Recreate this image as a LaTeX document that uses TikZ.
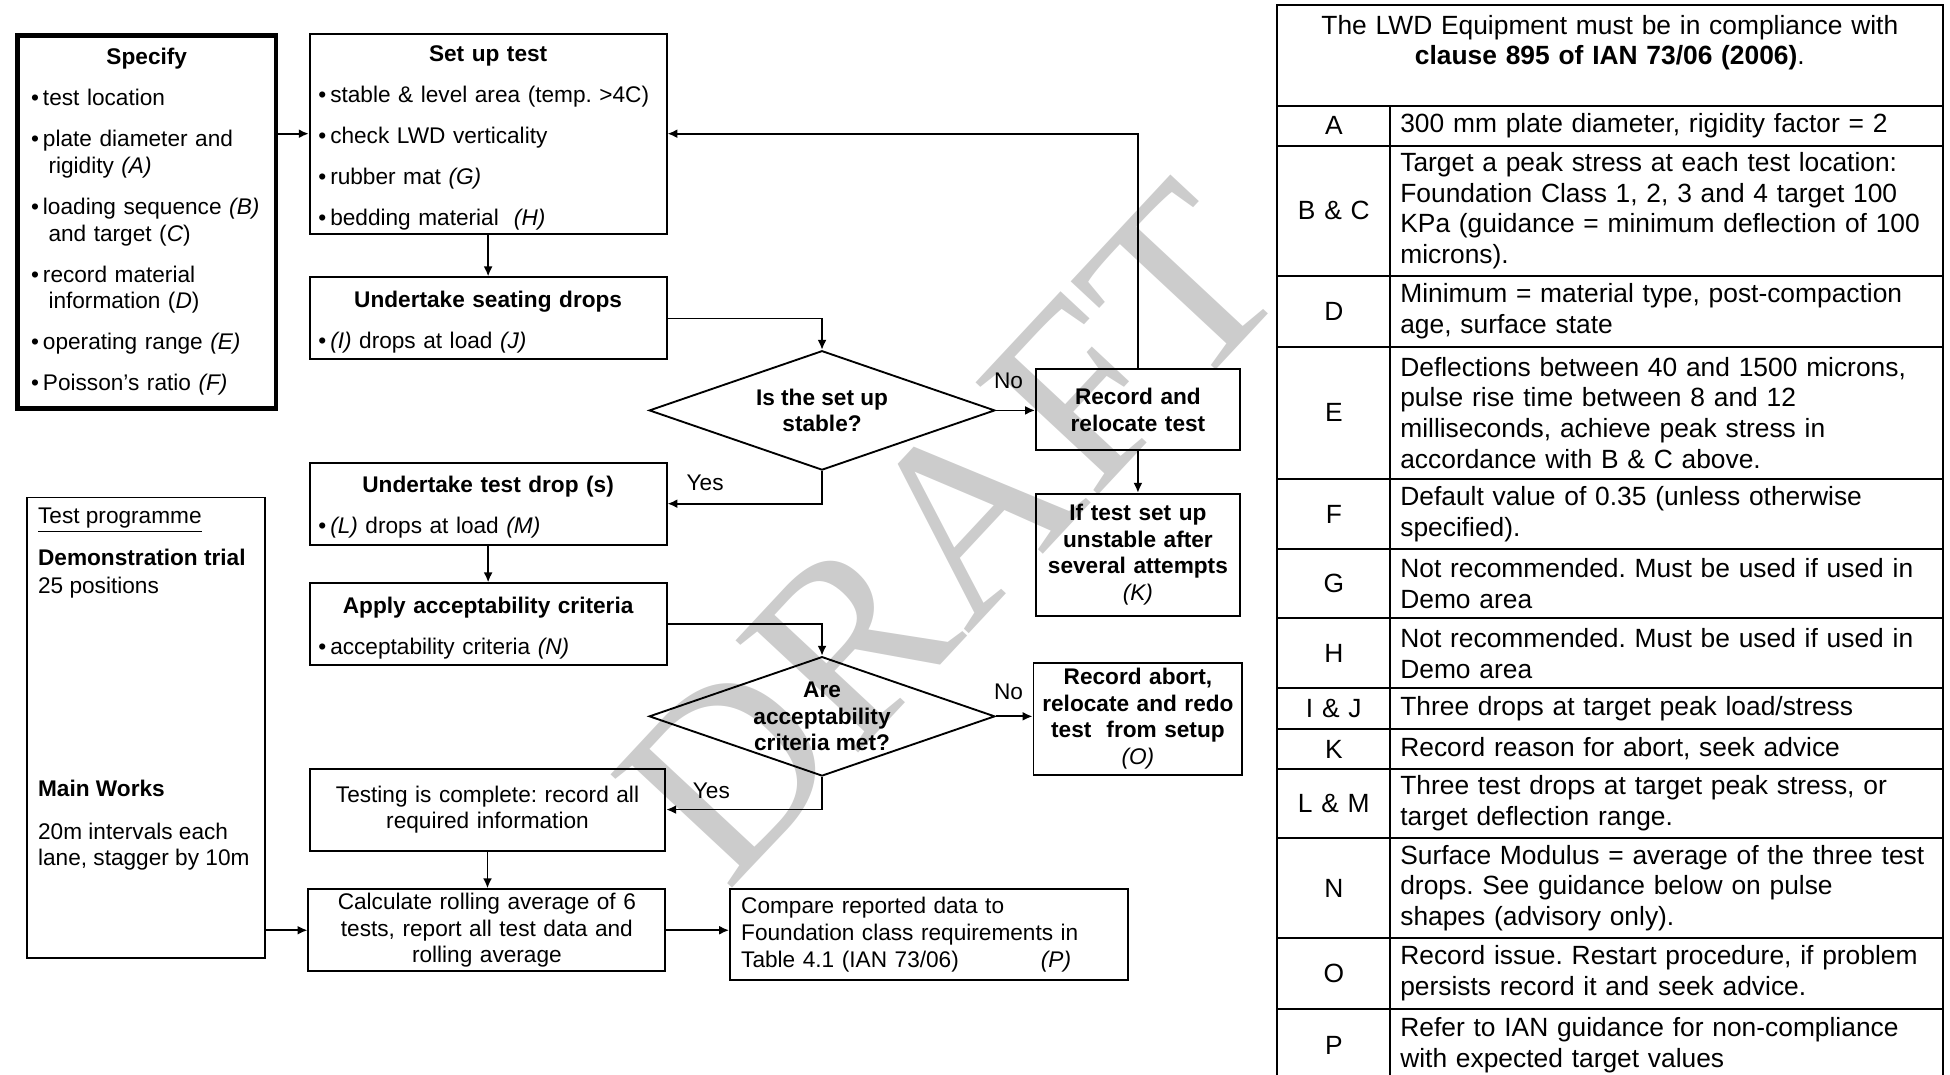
\documentclass[tikz,border=0pt]{standalone}
\usepackage{fontspec}
\setmainfont{Liberation Sans}
\newfontfamily\wmfont{Liberation Serif}
\usepackage{xcolor}
\usepackage{tikz}
\usetikzlibrary{positioning,arrows.meta,shapes.geometric,calc}

\definecolor{wmgray}{RGB}{204,204,204}
\newcommand{\fcfont}{\fontsize{9.1}{10.7}\selectfont}
\newcommand{\tbfont}{\fontsize{10.6}{12.35}\selectfont}
\newcommand{\bl}[1]{\par\hangindent=7pt\hangafter=1\mbox{\textbullet\hspace{1.6pt}#1}}
\newcommand{\blc}[1]{\newline\mbox{#1}}
\newcommand{\ttl}[1]{\centerline{\rule{0pt}{9.5pt}\bfseries #1}}
\frenchspacing

\begin{document}
\begin{tikzpicture}[x=50pt, y=50pt,
  blk/.style={draw, line width=0.75pt, font=\fcfont, align=left, inner xsep=3.5pt,
              inner ysep=0pt, text width=136.5pt, minimum height=33pt,
              execute at begin node={\setlength{\parskip}{5.8pt}}},
  spec/.style={blk, line width=1.8pt, inner xsep=5.5pt, text width=93pt, minimum height=150pt},
  cbox/.style={draw, line width=0.75pt, font=\fcfont, align=center, inner xsep=2pt,
               inner ysep=0pt, minimum height=33pt},
  dec/.style={draw, diamond, line width=0.75pt, inner sep=0pt, minimum width=139pt,
              minimum height=48pt},
  dtxt/.style={font=\fcfont\bfseries, align=center, inner sep=0pt},
  lab/.style={font=\fcfont, inner sep=1pt},
  arr/.style={-{Latex[length=4pt,width=3.6pt]}, line width=0.7pt},
  kcell/.style={draw, line width=0.8pt, font=\tbfont, align=center, text width=43.5pt,
                inner xsep=1pt, inner ysep=0pt, outer sep=0pt},
  dcell/.style={draw, line width=0.8pt, font=\tbfont, align=left, text width=214pt,
                inner xsep=4pt, inner ysep=0pt, outer sep=0pt},
  wm/.style={font=\wmfont\fontsize{102}{102}\selectfont, text=wmgray, rotate=47, inner sep=0pt},
]
\useasboundingbox (0,0) rectangle (15.68,-8.64);

% ====== watermark (behind everything) ======
\node[wm] (wmark) at (7.64,-4.28) {DRAFT};

% ====== left column: inputs ======
\node[spec] (spec) at (1.18,-1.785) {\centerline{\bfseries Specify}
  \bl{test location}
  \bl{plate diameter and}\blc{rigidity \emph{(A)}}
  \bl{loading sequence \emph{(B)}}\blc{and target (\emph{C})}
  \bl{record material}\blc{information (\emph{D})}
  \bl{operating range \emph{(E)}}
  \bl{Poisson's ratio \emph{(F)}}};

\node[draw, line width=0.75pt, minimum width=95.5pt, minimum height=185pt] (tp) at (1.175,-5.85) {};
\node[font=\fcfont, align=left, inner sep=0pt, below right=4.5pt and 4.5pt of tp.north west] (tpt)
  {\underline{Test programme}\\[6pt]
   \textbf{Demonstration trial}\\[0.5pt]
   25 positions\\[71pt]
   \textbf{Main Works}\\[6.5pt]
   20m intervals each\\
   lane, stagger by 10m};

% ====== main column ======
\node[blk, minimum height=80.5pt] (setup) at (3.925,-1.075) {\ttl{Set up test}
  \bl{stable \& level area (temp. >4C)}
  \bl{check LWD verticality}
  \bl{rubber mat \emph{(G)}}
  \bl{bedding material\ \ \emph{(H)}}};
\node[blk] (seat) at (3.925,-2.56) {\ttl{Undertake seating drops}
  \bl{\emph{(I)} drops at load \emph{(J)}}};
\node[blk] (drop) at (3.925,-4.05) {\ttl{Undertake test drop (s)}
  \bl{\emph{(L)} drops at load \emph{(M)}}};
\node[blk] (apply) at (3.925,-5.02) {\ttl{Apply acceptability criteria}
  \bl{acceptability criteria \emph{(N)}}};
\node[cbox, text width=139pt] (done) at (3.92,-6.51)
  {Testing is complete: record all\\required information};
\node[cbox, text width=139.5pt] (calc) at (3.915,-7.48)
  {Calculate rolling average of 6\\tests, report all test data and\\rolling average};
\node[cbox, align=left, text width=151pt, inner xsep=4.5pt, minimum height=36.5pt] (cmp) at (7.47,-7.515)
  {Compare reported data to\\Foundation class requirements in\\Table 4.1 (IAN 73/06)\hspace{33pt}\emph{(P)}};

% ====== decisions ======
\node[dec] (d1) at (6.61,-3.30) {};
\node[dtxt] (d1t) at (d1) {Is the set up\\stable?};
\node[dec] (d2) at (6.61,-5.76) {};
\node[dtxt] (d2t) at (d2) {Are\\acceptability\\criteria met?};

\node[cbox, font=\fcfont\bfseries, text width=78pt, minimum height=32.5pt] (rec) at (9.15,-3.295)
  {Record and\\relocate test};
\node[cbox, font=\fcfont\bfseries, text width=78pt, minimum height=49pt] (iftest) at (9.15,-4.46)
  {If test set up\\unstable after\\several attempts\\{\mdseries\itshape (K)}};
\node[cbox, font=\fcfont\bfseries, text width=80pt, minimum height=45pt] (abort) at (9.15,-5.78)
  {Record abort,\\relocate and redo\\test\ \ from setup\\{\mdseries\itshape (O)}};

\node[lab] (no1)  at (8.11,-3.06) {No};
\node[lab] (yes1) at (5.67,-3.88) {Yes};
\node[lab] (no2)  at (8.11,-5.56) {No};
\node[lab] (yes2) at (5.72,-6.36) {Yes};

% ====== connectors ======
\draw[arr] (spec.east |- setup.west) -- (setup.west);
\draw[arr] (setup) -- (seat);
\draw[arr] (seat.east) -| (d1.north);
\draw[arr] (d1.east) -- (rec.west |- d1.east);
\draw[arr] (rec.north) |- (setup.east);
\draw[arr] (rec) -- (iftest);
\draw[arr] (d1.south) |- (drop.east);
\draw[arr] (drop) -- (apply);
\draw[arr] (apply.east) -| (d2.north);
\draw[arr] (d2.east) -- (abort.west |- d2.east);
\draw[arr] (d2.south) |- (done.east);
\draw[arr] (done.south) -- (done.south |- calc.north);
\draw[arr] (calc.east) -- (cmp.west |- calc.east);
\draw[arr] (tp.east |- calc.west) -- (calc.west);

% ====== key table ======
\node[draw, line width=0.8pt, font=\tbfont, align=center, text width=263.5pt, inner xsep=2pt,
      inner ysep=0pt, outer sep=0pt, minimum height=40.5pt] (hdr) at (12.945,-0.445)
  {The LWD Equipment must be in compliance with\\\textbf{clause 895 of IAN 73/06 (2006)}.\\\mbox{}};

\node[kcell, minimum height=16pt, below right=0pt and 0pt of hdr.south west] (kA) {A};
\node[dcell, minimum height=16pt, right=0pt of kA] (tA) {300 mm plate diameter, rigidity factor = 2};
\node[kcell, minimum height=52.5pt, below=0pt of kA] (kBC) {B \& C};
\node[dcell, minimum height=52.5pt, right=0pt of kBC] (tBC) {Target a peak stress at each test location:\\Foundation Class 1, 2, 3 and 4 target 100\\KPa (guidance = minimum deflection of 100\\microns).};
\node[kcell, minimum height=28.5pt, below=0pt of kBC] (kD) {D};
\node[dcell, minimum height=28.5pt, right=0pt of kD] (tD) {Minimum = material type, post-compaction\\age, surface state};
\node[kcell, minimum height=53pt, below=0pt of kD] (kE) {E};
\node[dcell, minimum height=53pt, right=0pt of kE] (tE) {Deflections between 40 and 1500 microns,\\pulse rise time between 8 and 12\\milliseconds, achieve peak stress in\\accordance with B \& C above.};
\node[kcell, minimum height=28.25pt, below=0pt of kE] (kF) {F};
\node[dcell, minimum height=28.25pt, right=0pt of kF] (tF) {Default value of 0.35 (unless otherwise\\specified).};
\node[kcell, minimum height=27.75pt, below=0pt of kF] (kG) {G};
\node[dcell, minimum height=27.75pt, right=0pt of kG] (tG) {Not recommended. Must be used if used in\\Demo area};
\node[kcell, minimum height=28.25pt, below=0pt of kG] (kH) {H};
\node[dcell, minimum height=28.25pt, right=0pt of kH] (tH) {Not recommended. Must be used if used in\\Demo area};
\node[kcell, minimum height=16.5pt, below=0pt of kH] (kIJ) {I \& J};
\node[dcell, minimum height=16.5pt, right=0pt of kIJ] (tIJ) {Three drops at target peak load/stress};
\node[kcell, minimum height=15.75pt, below=0pt of kIJ] (kK) {K};
\node[dcell, minimum height=15.75pt, right=0pt of kK] (tK) {Record reason for abort, seek advice};
\node[kcell, minimum height=27.75pt, below=0pt of kK] (kLM) {L \& M};
\node[dcell, minimum height=27.75pt, right=0pt of kLM] (tLM) {Three test drops at target peak stress, or\\target deflection range.};
\node[kcell, minimum height=40.5pt, below=0pt of kLM] (kN) {N};
\node[dcell, minimum height=40.5pt, right=0pt of kN] (tN) {Surface Modulus = average of the three test\\drops. See guidance below on pulse\\shapes (advisory only).};
\node[kcell, minimum height=28.25pt, below=0pt of kN] (kO) {O};
\node[dcell, minimum height=28.25pt, right=0pt of kO] (tO) {Record issue. Restart procedure, if problem\\persists record it and seek advice.};
\node[kcell, minimum height=29.5pt, below=0pt of kO] (kP) {P};
\node[dcell, minimum height=29.5pt, right=0pt of kP] (tP) {Refer to IAN guidance for non-compliance\\with expected target values};

\end{tikzpicture}
\end{document}
